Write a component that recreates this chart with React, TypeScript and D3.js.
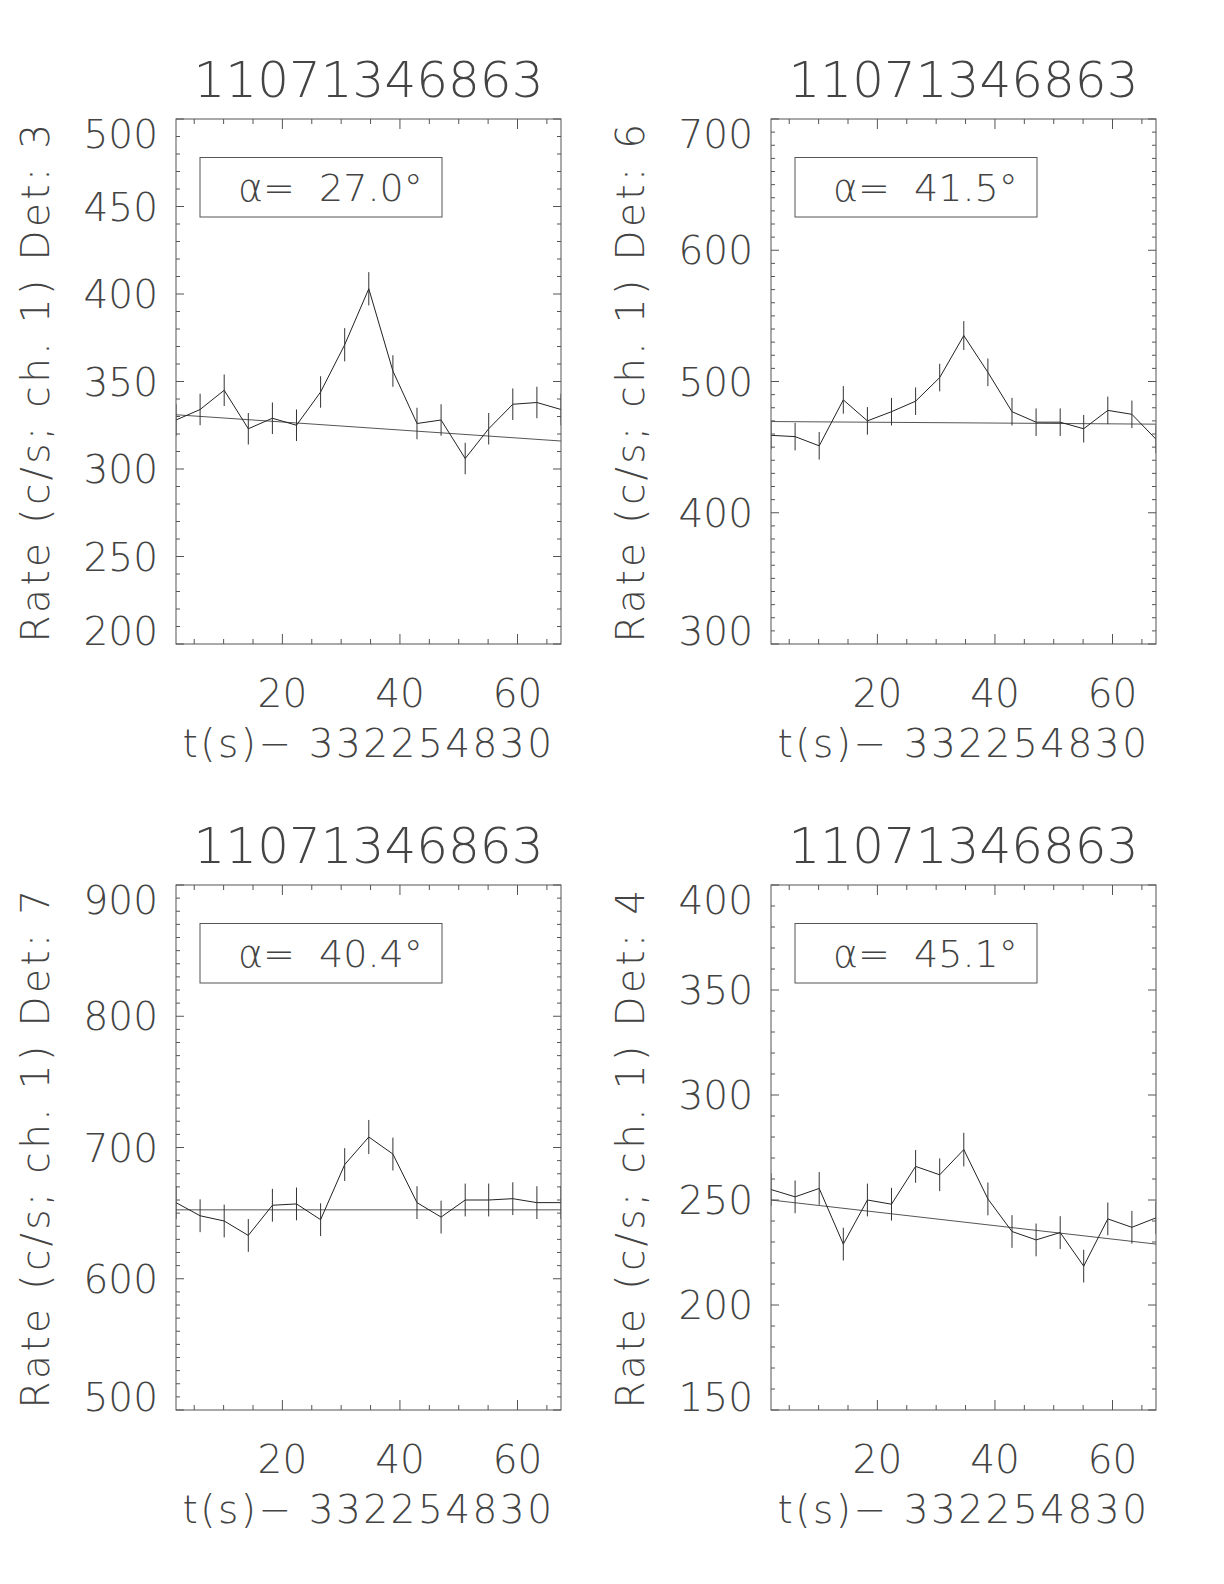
import React, { useEffect, useRef } from 'react';
import * as d3 from 'd3';

// burst id, time offset and the shared time bins (s after offset)
const burstId = '11071346863';
const timeOffset = '332254830';
const times = [1.9, 6.0, 10.1, 14.2, 18.3, 22.4, 26.5, 30.6, 34.7, 38.8, 42.9, 47.0, 51.1, 55.1, 59.2, 63.3, 67.4];

const detectors = [3, 6, 7, 4];
const angles = ['27.0', '41.5', '40.4', '45.1'];
const yDomains = [[200, 500], [300, 700], [500, 900], [150, 400]];
const yMajorSteps = [50, 100, 100, 50];

const det3Rates = [328, 334, 345, 323, 329, 325, 344, 371, 403, 356, 326, 328, 306, 323, 337, 338, 334];
const det3Errors = [9, 9, 9, 9, 9, 9, 9, 9.5, 9.5, 9, 9, 9, 9, 9, 9, 9, 9];
const det3Fit = [331, 316];

const det6Rates = [459, 458, 451, 486, 470, 477, 485, 503, 535, 507, 477, 469, 469, 464, 478, 475, 456];
const det6Errors = [10.5, 10.5, 10.5, 10.5, 10.5, 10.5, 10.5, 10.5, 11, 10.5, 10.5, 10.5, 10.5, 10.5, 10.5, 10.5, 10.5];
const det6Fit = [469.5, 467.5];

const det7Rates = [658, 648, 644, 633, 656, 657, 645, 687, 708, 695, 658, 647, 660, 660, 661, 658, 658];
const det7Errors = [12.5, 12.5, 12.5, 12.5, 12.5, 12.5, 12.5, 12.5, 13, 12.5, 12.5, 12.5, 12.5, 12.5, 12.5, 12.5, 12.5];
const det7Fit = [652.5, 652.5];

const det4Rates = [255, 251.5, 255.5, 229, 250, 248, 266, 262, 274, 250.5, 235, 231, 234.5, 218.5, 241, 237, 241.5];
const det4Errors = [7.8, 7.8, 7.8, 7.8, 7.8, 7.8, 7.8, 7.8, 8, 7.8, 7.8, 7.8, 7.8, 7.8, 7.8, 7.8, 7.8];
const det4Fit = [250, 229];

const rates = [det3Rates, det6Rates, det7Rates, det4Rates];
const errors = [det3Errors, det6Errors, det7Errors, det4Errors];
const fits = [det3Fit, det6Fit, det7Fit, det4Fit];

const W = 1224;
const H = 1584;
const PW = 385;
const PH = 525;
const lefts = [176, 771];
const tops = [119, 885];
const FONT = "'DejaVu Sans', sans-serif";
const TXT = '#444';
const AXIS = '#555';

const App = () => {
  const ref = useRef<SVGSVGElement>(null);

  useEffect(() => {
    const svg = d3.select(ref.current);
    svg.selectAll('*').remove();
    svg.append('rect').attr('width', W).attr('height', H).attr('fill', 'white');

    detectors.forEach((det, i) => {
      const left = lefts[i % 2];
      const top = tops[Math.floor(i / 2)];
      const g = svg.append('g').attr('transform', `translate(${left},${top})`);

      const x = d3.scaleLinear().domain([times[0], times[times.length - 1]]).range([0, PW]);
      const [y0, y1] = yDomains[i];
      const y = d3.scaleLinear().domain([y0, y1]).range([PH, 0]);

      const clipId = `clip-${i}`;
      g.append('clipPath').attr('id', clipId)
        .append('rect').attr('width', PW).attr('height', PH);
      const plot = g.append('g').attr('clip-path', `url(#${clipId})`);

      // background fit
      plot.append('line')
        .attr('x1', x(times[0])).attr('x2', x(times[times.length - 1]))
        .attr('y1', y(fits[i][0])).attr('y2', y(fits[i][1]))
        .attr('stroke', '#555').attr('stroke-width', 1);

      // rate curve
      const line = d3.line<number>().x((d, j) => x(times[j])).y(d => y(d));
      plot.append('path')
        .attr('d', line(rates[i]))
        .attr('fill', 'none').attr('stroke', '#222').attr('stroke-width', 1);

      // error bars
      plot.selectAll('line.err')
        .data(rates[i])
        .join('line')
        .attr('class', 'err')
        .attr('x1', (d, j) => x(times[j])).attr('x2', (d, j) => x(times[j]))
        .attr('y1', (d, j) => y(d - errors[i][j]))
        .attr('y2', (d, j) => y(d + errors[i][j]))
        .attr('stroke', '#333').attr('stroke-width', 1);

      // frame
      g.append('rect').attr('width', PW).attr('height', PH)
        .attr('fill', 'none').attr('stroke', AXIS).attr('stroke-width', 1);

      // x ticks (all inward, top and bottom)
      const xMinor = d3.range(5, times[times.length - 1], 5);
      xMinor.forEach(v => {
        const len = v % 20 === 0 ? 10 : 5;
        const px = x(v);
        g.append('line').attr('x1', px).attr('x2', px).attr('y1', PH).attr('y2', PH - len).attr('stroke', AXIS);
        g.append('line').attr('x1', px).attr('x2', px).attr('y1', 0).attr('y2', len).attr('stroke', AXIS);
      });

      // y ticks (left and right)
      const yMinor = d3.range(y0, y1 + 0.001, 10);
      yMinor.forEach(v => {
        const len = (v - y0) % yMajorSteps[i] === 0 ? 8 : 4;
        const py = y(v);
        g.append('line').attr('x1', 0).attr('x2', len).attr('y1', py).attr('y2', py).attr('stroke', AXIS);
        g.append('line').attr('x1', PW).attr('x2', PW - len).attr('y1', py).attr('y2', py).attr('stroke', AXIS);
      });

      const text = (sel: any, size: number) => sel
        .attr('font-family', FONT).attr('font-weight', 200)
        .attr('font-size', size).attr('fill', TXT);

      // y tick labels
      d3.range(y0, y1 + 0.001, yMajorSteps[i]).forEach(v => {
        const base = Math.min(Math.max(y(v) + 14.2, 29), PH + 1);
        text(g.append('text'), 39)
          .attr('x', -18).attr('y', base)
          .attr('text-anchor', 'end')
          .text(String(v));
      });

      // x tick labels
      [20, 40, 60].forEach(v => {
        text(g.append('text'), 39)
          .attr('x', x(v)).attr('y', PH + 63)
          .attr('text-anchor', 'middle')
          .text(String(v));
      });

      // titles
      text(g.append('text'), 50)
        .attr('x', PW / 2).attr('y', -22)
        .attr('text-anchor', 'middle')
        .text(burstId);

      text(g.append('text'), 39)
        .attr('x', PW / 2).attr('y', PH + 113)
        .attr('text-anchor', 'middle')
        .attr('letter-spacing', 2.5)
        .text(`t(s)\u2212 ${timeOffset}`);

      text(g.append('text'), 39)
        .attr('transform', `translate(${49 - 176},${PH / 2}) rotate(-90)`)
        .attr('text-anchor', 'middle')
        .attr('letter-spacing', 3.4)
        .text(`Rate (c/s; ch. 1) Det: ${det}`);

      // angle box
      g.append('rect')
        .attr('x', 24).attr('y', 38.5).attr('width', 242).attr('height', 59.5)
        .attr('fill', 'none').attr('stroke', AXIS).attr('stroke-width', 1);
      const lab = text(g.append('text'), 38).attr('x', 62).attr('y', 82);
      lab.append('tspan').text('\u03b1');
      lab.append('tspan').text(`=\u00a0 ${angles[i]}\u00b0`);
    });
  }, []);

  return <svg ref={ref} width={W} height={H} style={{ position: 'absolute', left: 0, top: 0 }} />;
};

export default App;
